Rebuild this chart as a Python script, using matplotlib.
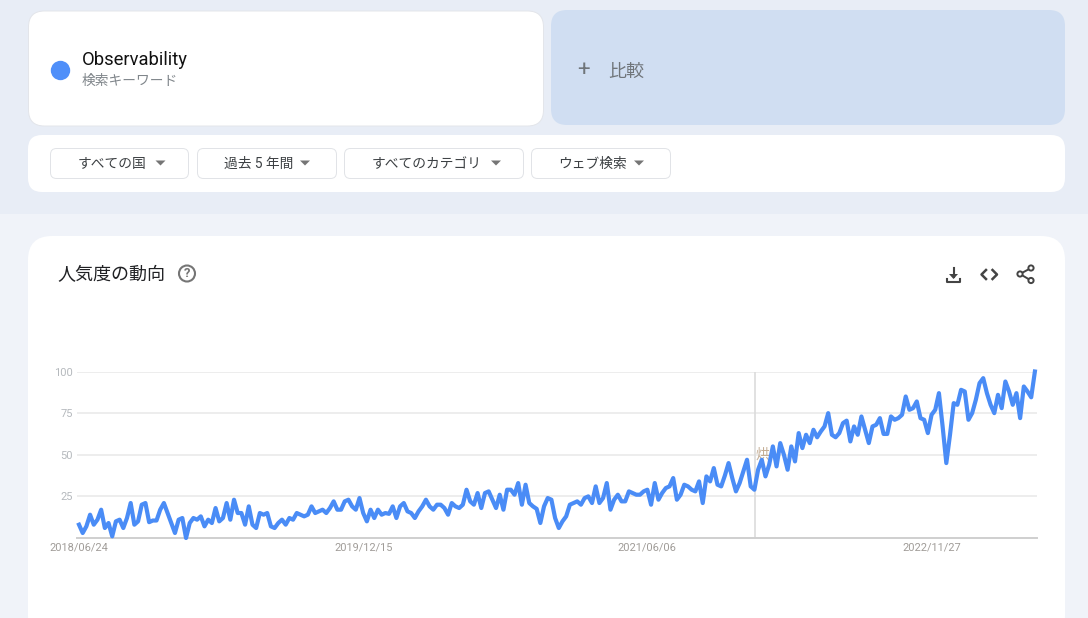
import matplotlib
matplotlib.use("Agg")
from matplotlib import pyplot as plt
from matplotlib.patches import FancyBboxPatch, Circle, Polygon, Rectangle
import pandas as pd

plt.rcParams['font.family'] = ['Roboto', 'Noto Sans CJK JP', 'DejaVu Sans']

# weekly interest
values = [8, 3, 7, 14, 8, 11, 17, 6, 9, 1, 10, 11, 6, 12, 21, 8, 10, 20, 21, 9.5,
          10.5, 10.5, 17, 21, 15, 9, 3, 11, 12, 0, 9, 12, 11, 13, 7, 11, 9, 18, 10, 12,
          21, 11, 23, 15, 15, 8, 19, 8, 6, 15, 14, 15, 7, 6, 9, 11, 8, 12, 11, 15,
          14, 13, 14, 19, 15, 16, 17, 15, 18, 22, 17, 17, 22, 23, 19, 17, 24, 15, 10, 17,
          12, 17, 14, 15, 14.5, 19, 12, 19, 21, 16, 15, 12, 16, 19, 23, 19, 17, 20, 20, 18,
          14, 21, 19, 18, 20, 29, 22, 20, 27, 18, 27, 28, 23, 18, 26, 17, 29, 29, 26, 33,
          20, 32, 21, 19, 17.5, 9, 19, 24, 23, 12, 6, 10, 13, 20, 21, 22, 20, 24, 25, 21,
          31, 21, 24, 33, 17, 23, 26, 22, 22, 28, 27, 26, 26, 28, 29, 20, 33, 23, 27, 30,
          31, 36, 23, 26, 32, 31, 29, 28, 34, 21, 37, 34, 42, 32, 31, 37.5, 45, 36, 28, 33,
          40, 47, 31, 29, 41, 47, 37, 44, 55, 43, 57, 50, 41, 55, 46, 63, 54, 62, 57, 65,
          60.5, 64, 67, 75, 62, 60.5, 63, 69, 70.5, 58, 67, 62, 73, 65, 57, 67, 68, 72, 62.5, 62.5,
          73, 71, 72, 74, 85, 77, 78, 82, 72, 71, 63, 74, 77, 87, 67, 45, 62, 81, 80, 89,
          88, 71, 75, 83, 93, 96, 87, 80, 75, 86, 78, 94, 88, 80, 87, 72, 91, 88, 84.5, 100]
y_ticks = [25, 50, 75, 100]
x_tick_dates = ['2018/06/24', '2019/12/15', '2021/06/06', '2022/11/27']
hover_date = '2021/12/26'
filters = ['すべての国', '過去 5 年間', 'すべてのカテゴリ', 'ウェブ検索']

W, H = 1088, 618
BLUE = '#4a8cf6'

dates = pd.date_range('2018-06-24', periods=len(values), freq='7D')

fig = plt.figure(figsize=(W / 100, H / 100), dpi=100)

# full figure axes in pixels for the page around the chart
ui = fig.add_axes([0, 0, 1, 1])
ui.set_xlim(0, W)
ui.set_ylim(H, 0)
ui.axis('off')


def card(x0, y0, x1, y1, r, fc, ec='none', lw=0.0):
    ui.add_patch(FancyBboxPatch((x0 + r, y0 + r), x1 - x0 - 2 * r, y1 - y0 - 2 * r,
                                boxstyle='round,pad=%f,rounding_size=%f' % (r, r),
                                fc=fc, ec=ec, lw=lw))


ui.add_patch(Rectangle((0, 0), W, 214, fc='#e8edf6', ec='none'))
ui.add_patch(Rectangle((0, 214), W, H - 214, fc='#f0f3f9', ec='none'))

# search term card and compare card
card(28.5, 11, 543.5, 126, 16, 'white', '#e3e5ea', 0.7)
ui.add_patch(Circle((60.5, 70.5), 9.7, fc='#4f8ff9', ec='none'))
ui.text(81.5, 60, 'Observability', fontsize=13.2, color='#111111', va='center', ha='left')
ui.text(82, 80.5, '検索キーワード', fontsize=9.9, color='#80868b', va='center', ha='left')

card(551, 10, 1065, 125, 16, '#d0def2')
ui.text(583.5, 71, '+', fontsize=16, color='#70757a', va='center', ha='center')
ui.text(608, 71.5, '比較', fontsize=13, color='#70757a', va='center', ha='left')

# filter bar
card(28, 135, 1065, 192, 14, 'white')
btn_x0 = [50.5, 197.5, 344.5, 531.5]
btn_x1 = [188.5, 336.5, 523.5, 670.5]
txt_x = [112.5, 258.5, 427, 593]
arrow_x = [160.5, 305, 496, 639]
for label, x0, x1, tx, ax_ in zip(filters, btn_x0, btn_x1, txt_x, arrow_x):
    card(x0, 148.5, x1, 178.5, 6, 'white', '#e1e3e7', 0.7)
    ui.text(tx, 164, label, fontsize=9.9, color='#3c4043', va='center', ha='center')
    ui.add_patch(Polygon([(ax_ - 5, 160.5), (ax_ + 5, 160.5), (ax_, 165.5)], fc='#757575', ec='none'))

# chart card
card(28, 236, 1065, 640, 24, 'white')
ui.text(57, 275, '人気度の動向', fontsize=13, color='#202124', va='center', ha='left')
ui.add_patch(Circle((187, 273.5), 8, fc='none', ec='#757575', lw=1.5))
ui.text(187, 273.5, '?', fontsize=9.5, fontweight='bold', color='#757575', va='center', ha='center')

# download icon
ICON = '#444444'
ui.plot([953.5, 953.5], [268, 277], color=ICON, lw=1.5)
ui.add_patch(Polygon([(949, 274), (958, 274), (953.5, 279)], fc=ICON, ec='none'))
ui.plot([947, 947, 960, 960], [279, 282, 282, 279], color=ICON, lw=1.5)
# embed icon
ui.plot([986, 981.5, 986], [270, 274.5, 279], color=ICON, lw=1.8)
ui.plot([992.5, 997, 992.5], [270, 274.5, 279], color=ICON, lw=1.8)
# share icon
ui.plot([1031, 1020, 1031], [268, 274, 280.5], color=ICON, lw=1.4)
for cx, cy in [(1031, 268), (1020, 274), (1031, 280.5)]:
    ui.add_patch(Circle((cx, cy), 2.6, fc='white', ec=ICON, lw=1.4, zorder=3))

# the trend chart itself
L, R, T, B = 77, 1037, 371.5, 538
ax = fig.add_axes([L / W, 1 - B / H, (R - L) / W, (B - T) / H])
ax.patch.set_alpha(0)
ax.set_ylim(0, 100)
ax.set_xlim(dates[0] - pd.Timedelta(days=3.8), dates[-1] + pd.Timedelta(days=4))
for s in ['top', 'left', 'right']:
    ax.spines[s].set_visible(False)
ax.spines['bottom'].set_color('#cfcfcf')
ax.spines['bottom'].set_linewidth(1.4)
ax.set_yticks(y_ticks)
ax.set_yticklabels([str(v) for v in y_ticks], fontsize=8, color='#b5b9bd')
ax.set_xticks(pd.to_datetime(x_tick_dates, format='%Y/%m/%d'))
ax.set_xticklabels(x_tick_dates, fontsize=7.9, color='#a09c98')
ax.tick_params(axis='both', length=0)
ax.tick_params(axis='y', pad=3)
ax.tick_params(axis='x', pad=3)
ax.grid(axis='y', color='#e8e8e8', linewidth=1.1)
ax.set_axisbelow(True)

hover = pd.to_datetime(hover_date, format='%Y/%m/%d')
ax.axvline(hover + pd.Timedelta(days=2), color='#dcdcdc', linewidth=1.2, zorder=1)
ax.annotate('烘', (hover, 50), xytext=(6, 0), textcoords='offset points', fontsize=10,
            color='#c4ad94', va='center', ha='center', zorder=1)
ax.plot(dates, values, color=BLUE, linewidth=3.0, solid_joinstyle='round', clip_on=False, zorder=3)

fig.savefig('out.png', dpi=100)
